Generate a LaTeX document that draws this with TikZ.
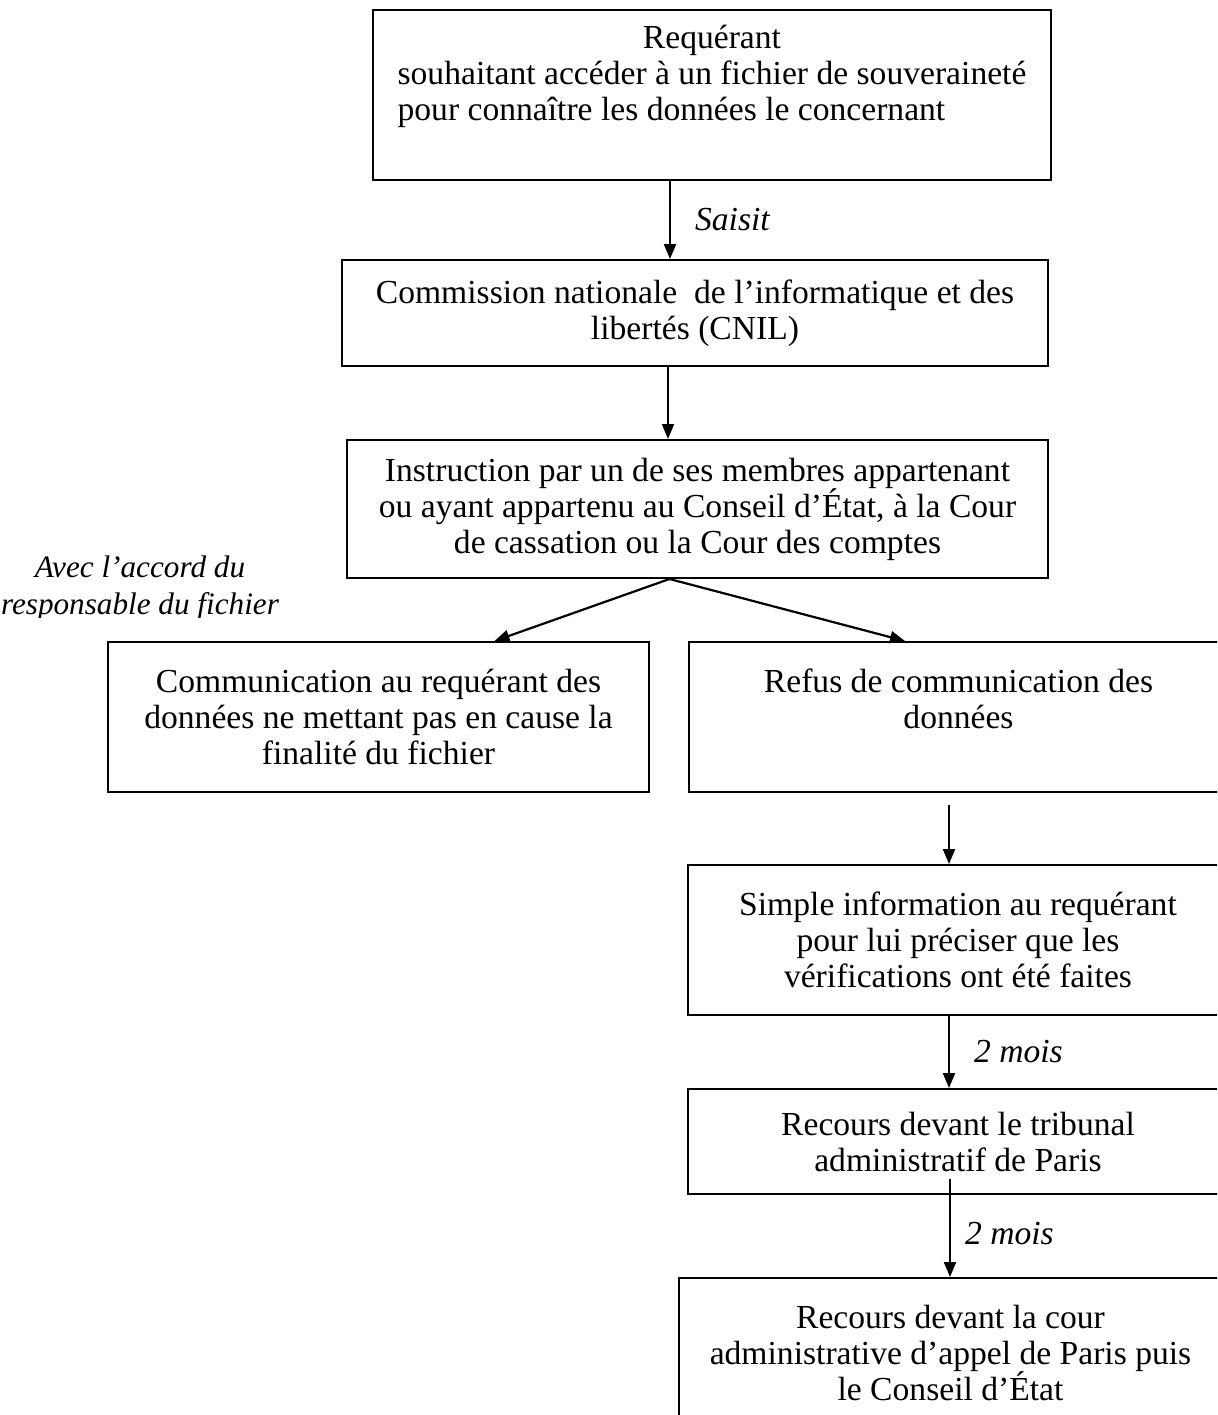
\documentclass[tikz,border=0pt]{standalone}
\usepackage{fontspec}
\setmainfont{Liberation Serif}
\usetikzlibrary{arrows.meta,calc}
\newcommand{\delai}{2 mois}

\begin{document}
\begin{tikzpicture}[x=1pt,y=-1pt,>={Triangle[length=7.5pt,width=6pt]},
  every node/.style={font=\fontsize{16.8pt}{18pt}\selectfont},
  box/.style={draw,line width=1pt,align=center,inner sep=0pt},
  lab/.style={font=\fontsize{16.8pt}{18.5pt}\selectfont\itshape,inner sep=0pt},
  fleche/.style={->,line width=1.1pt}]
  \useasboundingbox (0,0) rectangle (608.5,707.5);
  \clip (0,0) rectangle (608.5,707.5);
  \node[box,minimum width=339pt,minimum height=85pt] (req) at (356,47.5)
    {\begin{tabular}{@{}l@{}}\multicolumn{1}{@{}c@{}}{Requérant}\\ souhaitant accéder à un fichier de souveraineté\\ pour connaître les données le concernant\\ ~\end{tabular}};
  \node[box,minimum width=353pt,minimum height=53pt] (cnil) at (347.5,156.5)
    {Commission nationale \ de l'informatique et des\\ libertés (CNIL)};
  \node[box,minimum width=350.5pt,minimum height=69pt] (instr) at (348.75,254.5)
    {Instruction par un de ses membres appartenant\\ ou ayant appartenu au Conseil d'État, à la Cour\\ de cassation ou la Cour des comptes};
  \node[box,minimum width=270.5pt,minimum height=75pt] (comm) at (189.25,358.5)
    {Communication au requérant des\\ données ne mettant pas en cause la\\ finalité du fichier};
  \node[box,minimum width=269.5pt,minimum height=75pt] (refus) at (479.25,358.5)
    {Refus de communication des\\ données\\ ~};
  \node[box,minimum width=270pt,minimum height=75pt] (info) at (479,470)
    {Simple information au requérant\\ pour lui préciser que les\\ vérifications ont été faites};
  \node[box,minimum width=270pt,minimum height=52.5pt] (trib) at (479,570.75)
    {Recours devant le tribunal\\ administratif de Paris};
  \node[box,minimum width=271.5pt,minimum height=75pt] (cour) at (475.25,676.5)
    {Recours devant la cour\\ administrative d'appel de Paris puis\\ le Conseil d'État};
  \begin{scope}
    \clip (0,270) rectangle (200,308.5);
    \node[lab,font=\fontsize{15.6pt}{18.5pt}\selectfont\itshape,align=center] (accord) at (70,294)
      {Avec l'accord du\\ responsable du fichier};
  \end{scope}
  \draw[fleche] ([xshift=-21pt]req.south) -- ([xshift=-21pt]req.south |- cnil.north)
    node[lab,midway,right,xshift=12pt] (saisit) {Saisit};
  \draw[fleche] ([xshift=-13.5pt]cnil.south) -- ([xshift=-13.5pt]cnil.south |- instr.north);
  \draw[fleche] ([xshift=-14pt]instr.south) -- ([xshift=58pt]comm.north);
  \draw[fleche] ([xshift=-14pt]instr.south) -- ([xshift=-26.75pt]refus.north);
  \draw[fleche,shorten <=6pt] ([xshift=-4.75pt]refus.south) -- ([xshift=-4.75pt]refus.south |- info.north);
  \draw[fleche] ([xshift=-4.5pt]info.south) -- ([xshift=-4.5pt]info.south |- trib.north)
    node[lab,midway,right,xshift=12pt] (mois1) {\delai};
  \draw[fleche,shorten <=-8pt] ([xshift=-4pt]trib.south) -- ([xshift=-4pt]trib.south |- cour.north)
    node[lab,midway,right,xshift=7pt,yshift=1pt] (mois2) {\delai};
\end{tikzpicture}
\end{document}
